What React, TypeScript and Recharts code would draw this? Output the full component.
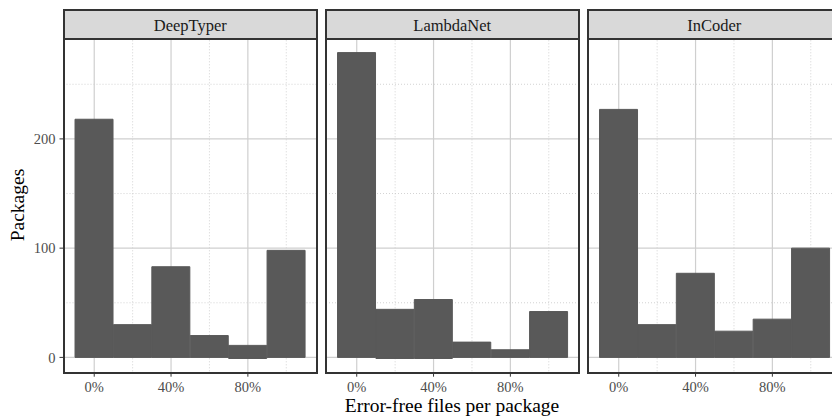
import { BarChart, Bar, XAxis, YAxis, CartesianGrid } from "recharts";

const bins = [0, 0.2, 0.4, 0.6, 0.8, 1.0];
const deepTyper = [218, 30, 83, 20, 11, 98];
const deepTyperLow = [0, 0, 0, 0, -1, 0];
const lambdaNet = [279, 44, 53, 14, 7, 42];
const lambdaNetLow = [0, -1, -1, 0, 0, 0];
const inCoder = [227, 30, 77, 24, 35, 100];
const inCoderLow = [0, 0, 0, 0, 0, 0];

const xTicks = [0, 0.4, 0.8];
const xMinor = [0.2, 0.6, 1.0];
const yTicks = [0, 100, 200];
const yMinor = [50, 150, 250];

const FONT = "'Liberation Serif', 'Times New Roman', serif";
const PANEL_W = 253.5;
const PLOT_TOP = 37.3;
const PLOT_BOTTOM = 372.7;
const Y_SPACE = 63.5;

const panels = [
  { name: "DeepTyper", values: deepTyper, low: deepTyperLow, left: 63.5 },
  { name: "LambdaNet", values: lambdaNet, low: lambdaNetLow, left: 325.5 },
  { name: "InCoder", values: inCoder, low: inCoderLow, left: 587.5 },
];

const tickStyle = { fill: "#4d4d4d", fontSize: 14.5, fontFamily: FONT };

function Panel({ name, values, low, left, showY }: {
  name: string; values: number[]; low: number[]; left: number; showY: boolean;
}) {
  const data = bins.map((b, i) => ({ bin: b, count: [low[i], values[i]] }));
  const chartLeft = showY ? left - Y_SPACE : left;
  return (
    <>
      <div style={{ position: "absolute", left: chartLeft, top: 0 }}>
        <BarChart
          width={PANEL_W + (showY ? Y_SPACE : 0)}
          height={417}
          data={data}
          barCategoryGap={0}
          barGap={0}
          style={{ fontFamily: FONT }}
          margin={{ top: PLOT_TOP, bottom: 417 - PLOT_BOTTOM - 30, left: showY ? Y_SPACE - 40 : 0, right: 0 }}
        >
          <CartesianGrid horizontalValues={yMinor} verticalValues={xMinor} stroke="#c8c8c8" strokeDasharray="1 2" strokeWidth={0.8} />
          <CartesianGrid horizontalValues={yTicks} verticalValues={xTicks} stroke="#cfcfcf" strokeWidth={1.2} />
          <XAxis
            dataKey="bin"
            type="number"
            domain={[-0.16, 1.16]}
            ticks={xTicks}
            allowDataOverflow
            tickFormatter={(v: number) => `${Math.round(v * 100)}%`}
            tick={tickStyle}
            axisLine={false}
            tickSize={4}
            tickMargin={5}
            tickLine={{ stroke: "#333333" }}
            height={30}
          />
          <YAxis
            type="number"
            domain={[-14, 293]}
            ticks={yTicks}
            allowDataOverflow
            hide={!showY}
            tick={tickStyle}
            axisLine={false}
            tickSize={4}
            tickMargin={4}
            tickLine={{ stroke: "#333333" }}
            width={40}
          />
          <Bar dataKey="count" fill="#595959" stroke="#595959" strokeWidth={1} isAnimationActive={false} />
        </BarChart>
      </div>
      <div
        style={{
          position: "absolute",
          left: left - 1,
          top: 8.5,
          width: PANEL_W + 2,
          height: PLOT_BOTTOM - 8.5 + 1,
          border: "2px solid #333333",
          boxSizing: "border-box",
          pointerEvents: "none",
        }}
      >
        <div
          style={{
            height: 29,
            background: "#d9d9d9",
            borderBottom: "2px solid #333333",
            boxSizing: "border-box",
            textAlign: "center",
            fontFamily: FONT,
            fontSize: 16.5,
            lineHeight: "16.5px",
            paddingTop: 7.5,
            color: "#1a1a1a",
          }}
        >
          {name}
        </div>
      </div>
    </>
  );
}

export default function App() {
  return (
    <div
      style={{
        position: "absolute",
        left: 0,
        top: 0,
        width: 832,
        height: 417,
        overflow: "hidden",
        background: "#ffffff",
        fontFamily: FONT,
      }}
    >
      {panels.map((p, i) => (
        <Panel key={p.name} {...p} showY={i === 0} />
      ))}
      <div
        style={{
          position: "absolute",
          left: 18.3,
          top: 205,
          transform: "translate(-50%, -50%) rotate(-90deg)",
          fontSize: 19.5,
          lineHeight: "19.5px",
          color: "#000000",
          whiteSpace: "nowrap",
        }}
      >
        Packages
      </div>
      <div
        style={{
          position: "absolute",
          left: 452,
          top: 396,
          transform: "translateX(-50%)",
          fontSize: 19.5,
          lineHeight: "19.5px",
          color: "#000000",
          whiteSpace: "nowrap",
        }}
      >
        Error-free files per package
      </div>
    </div>
  );
}
